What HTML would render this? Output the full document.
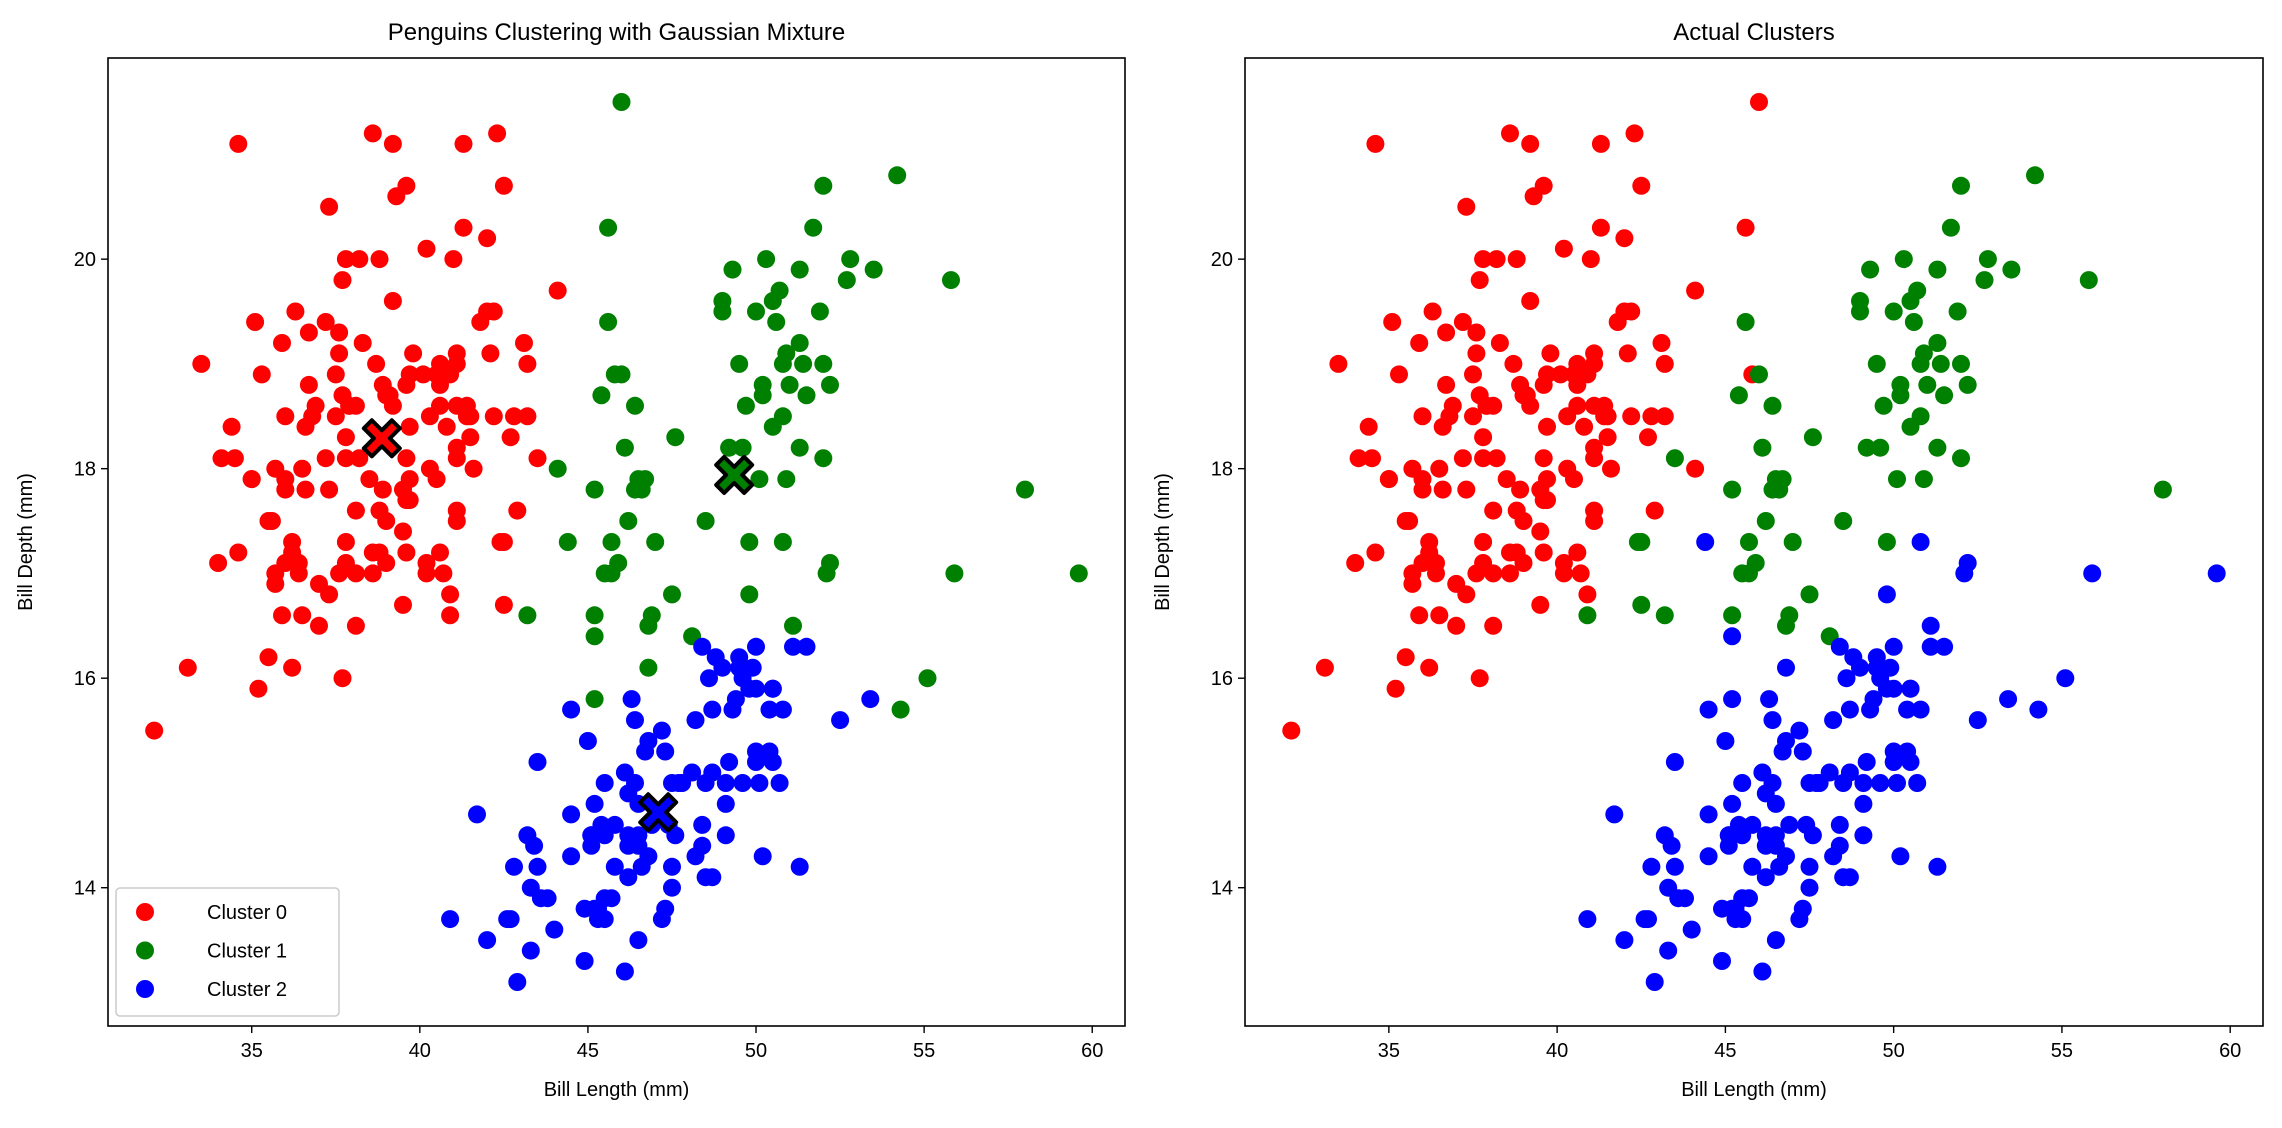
<!DOCTYPE html>
<html><head><meta charset="utf-8">
<style>
html,body{margin:0;padding:0;background:#fff;}
svg{display:block;font-family:"Liberation Sans","DejaVu Sans",sans-serif;}
</style></head>
<body>
<svg id="chart" width="2282" height="1128" viewBox="0 0 2282 1128"></svg>
<script>
// ---- data ----
const adelieLen=[39.1,39.5,40.3,36.7,39.3,38.9,39.2,34.1,42.0,37.8,37.8,41.1,38.6,34.6,36.6,38.7,42.5,34.4,46.0,37.8,37.7,35.9,38.2,38.8,35.3,40.6,40.5,37.9,40.5,39.5,37.2,39.5,40.9,36.4,39.2,38.8,42.2,37.6,39.8,36.5,40.8,36.0,44.1,37.0,39.6,41.1,37.5,36.0,42.3,39.6,40.1,35.0,42.0,34.5,41.4,39.0,40.6,36.5,37.6,35.7,41.3,37.6,41.1,36.4,41.6,35.5,41.1,35.9,41.8,33.5,39.7,39.6,45.8,35.5,42.8,40.9,37.2,36.2,42.1,34.6,42.9,36.7,35.1,37.3,41.3,36.3,36.9,38.3,38.9,35.7,41.1,34.0,39.6,36.2,40.8,38.1,40.3,33.1,43.2,35.0,41.0,37.7,37.8,37.9,39.7,38.6,38.2,38.1,43.2,38.1,45.6,39.7,42.2,39.6,42.7,38.6,37.3,35.7,41.1,36.2,37.7,40.2,41.4,35.2,40.6,38.8,41.5,39.0,44.1,38.5,43.1,36.8,37.5,38.1,41.1,35.6,40.2,37.0,39.7,40.2,40.6,32.1,40.7,37.3,39.0,39.2,36.6,36.0,37.8,36.0,41.5];
const adelieDep=[18.7,17.4,18.0,19.3,20.6,17.8,19.6,18.1,20.2,17.1,17.3,17.6,21.2,21.1,17.8,19.0,20.7,18.4,21.5,18.3,18.7,19.2,18.1,17.2,18.9,18.6,17.9,18.6,18.9,16.7,18.1,17.8,18.9,17.0,21.1,20.0,18.5,19.3,19.1,18.0,18.4,18.5,19.7,16.9,18.8,19.0,18.9,17.9,21.2,17.7,18.9,17.9,19.5,18.1,18.6,17.5,18.8,16.6,19.1,16.9,21.1,17.0,18.2,17.1,18.0,16.2,19.1,16.6,19.4,19.0,18.4,17.2,18.9,17.5,18.5,16.8,19.4,16.1,19.1,17.2,17.6,18.8,19.4,17.8,20.3,19.5,18.6,19.2,18.8,18.0,18.1,17.1,18.1,17.3,18.9,18.6,18.5,16.1,18.5,17.9,20.0,16.0,20.0,18.6,18.9,17.2,20.0,17.0,19.0,16.5,20.3,17.7,19.5,20.7,18.3,17.0,20.5,17.0,18.6,17.2,19.8,17.0,18.5,15.9,19.0,17.6,18.3,17.1,18.0,17.9,19.2,18.5,18.5,17.6,17.5,17.5,20.1,16.5,17.9,17.1,17.2,15.5,17.0,16.8,18.7,18.6,18.4,17.8,18.1,17.1,18.5];
const chinLen=[46.5,50.0,51.3,45.4,52.7,45.2,46.1,51.3,46.0,51.3,46.6,51.7,47.0,52.0,45.9,50.5,50.3,58.0,46.4,49.2,42.4,48.5,43.2,50.6,46.7,52.0,50.5,49.5,46.4,52.8,40.9,54.2,42.5,51.0,49.7,47.5,47.6,52.0,46.9,53.5,49.0,46.2,50.9,45.5,50.9,50.8,50.1,49.0,51.5,49.8,48.1,51.4,45.7,50.7,42.5,52.2,45.2,49.3,50.2,45.6,51.9,46.8,45.7,55.8,43.5,49.6,50.8,50.2];
const chinDep=[17.9,19.5,19.2,18.7,19.8,17.8,18.2,18.2,18.9,19.9,17.8,20.3,17.3,18.1,17.1,19.6,20.0,17.8,18.6,18.2,17.3,17.5,16.6,19.4,17.9,19.0,18.4,19.0,17.8,20.0,16.6,20.8,16.7,18.8,18.6,16.8,18.3,20.7,16.6,19.9,19.5,17.5,19.1,17.0,17.9,18.5,17.9,19.6,18.7,17.3,16.4,19.0,17.3,19.7,17.3,18.8,16.6,19.9,18.8,19.4,19.5,16.5,17.0,19.8,18.1,18.2,19.0,18.7];
const gentooLen=[46.1,50.0,48.7,50.0,47.6,46.5,45.4,46.7,43.3,46.8,40.9,49.0,45.5,48.4,45.8,49.3,42.0,49.2,46.2,48.7,50.2,45.1,46.5,46.3,42.9,46.1,44.5,47.8,48.2,50.0,47.3,42.8,45.1,59.6,49.1,48.4,42.6,44.4,44.0,48.7,42.7,49.6,45.3,49.6,50.5,43.6,45.5,50.5,44.9,45.2,46.6,48.5,45.1,50.1,46.5,45.0,43.8,45.5,43.2,50.4,45.3,46.2,45.7,54.3,45.8,49.8,46.2,49.5,43.5,50.7,47.7,46.4,48.2,46.5,46.4,48.6,47.5,51.1,45.2,45.2,49.1,52.5,47.4,50.0,44.9,50.8,43.4,51.3,47.5,52.1,47.5,52.2,45.5,49.5,44.5,50.8,49.4,46.9,48.4,51.1,48.5,55.9,47.2,49.1,47.3,46.8,41.7,53.4,43.3,48.1,50.5,49.8,43.5,51.5,46.2,55.1,44.5,48.8,47.2,46.8,50.4,45.2,49.9];
const gentooDep=[13.2,16.3,14.1,15.2,14.5,13.5,14.6,15.3,13.4,15.4,13.7,16.1,13.7,14.6,14.6,15.7,13.5,15.2,14.5,15.1,14.3,14.5,14.5,15.8,13.1,15.1,14.3,15.0,14.3,15.3,15.3,14.2,14.5,17.0,14.8,16.3,13.7,17.3,13.6,15.7,13.7,16.0,13.7,15.0,15.9,13.9,13.9,15.9,13.3,15.8,14.2,14.1,14.4,15.0,14.4,15.4,13.9,15.0,14.5,15.3,13.8,14.9,13.9,15.7,14.2,16.8,14.4,16.2,14.2,15.0,15.0,15.6,15.6,14.8,15.0,16.0,14.2,16.3,13.8,16.4,14.5,15.6,14.6,15.9,13.8,17.3,14.4,14.2,14.0,17.0,15.0,17.1,14.5,16.1,14.7,15.7,15.8,14.6,14.4,16.5,15.0,17.0,15.5,15.0,13.8,16.1,14.7,15.8,14.0,15.1,15.2,15.9,15.2,16.3,14.1,16.0,15.7,16.2,13.7,14.3,15.7,14.8,16.1];
// GMM assignments that differ from species (length, depth, cluster)
const overrideLen=[45.8,46.0,45.6,44.1,40.9,42.5,42.4,42.5,43.5,44.4,45.2,45.2,46.8,55.1,54.3,59.6,55.9,52.1,52.2,50.8,51.1,49.8];
const overrideDep=[18.9,21.5,20.3,18.0,16.6,16.7,17.3,17.3,18.1,17.3,16.4,15.8,16.1,16.0,15.7,17.0,17.0,17.0,17.1,17.3,16.5,16.8];
const overrideCluster=[1,1,1,1,0,0,0,0,0,1,1,1,1,1,1,1,1,1,1,1,1,1];
const centerLen=[38.87,49.35,47.09];
const centerDep=[18.29,17.94,14.72];
const xTicks=[35,40,45,50,55,60];
const yTicks=[14,16,18,20];
const colors=['#ff0000','#008000','#0000ff'];

// ---- layout ----
const NS='http://www.w3.org/2000/svg';
const svg=document.getElementById('chart');
const XMIN=30.725,XMAX=60.975,YMIN=12.68,YMAX=21.92;
const TOP=58,BOT=1026;
function mk(tag,attrs,parent){const e=document.createElementNS(NS,tag);for(const k in attrs)e.setAttribute(k,attrs[k]);(parent||svg).appendChild(e);return e;}

const pts=[];
function addSet(L,D,sp){for(let i=0;i<L.length;i++){let c=sp;for(let j=0;j<overrideLen.length;j++){if(overrideLen[j]===L[i]&&overrideDep[j]===D[i]){c=overrideCluster[j];}}pts.push({x:L[i],y:D[i],sp:sp,cl:c});}}
addSet(adelieLen,adelieDep,0);addSet(chinLen,chinDep,1);addSet(gentooLen,gentooDep,2);

function panel(x0,x1,title,key,name,showCenters,showLegend){
  const sx=v=>x0+(v-XMIN)/(XMAX-XMIN)*(x1-x0);
  const sy=v=>BOT-(v-YMIN)/(YMAX-YMIN)*(BOT-TOP);
  const g=mk('g',{});
  
  
  for(let c=0;c<3;c++){
    const sg=mk('g',{fill:colors[c]},g);
    
    
    pts.filter(p=>p[key]===c).forEach(p=>{
      const dot=mk('circle',{cx:sx(p.x).toFixed(1),cy:sy(p.y).toFixed(1),r:9},sg);
      
      
    });
  }
  if(showCenters){
    for(let c=0;c<3;c++){
      const cx=sx(centerLen[c]),cy=sy(centerDep[c]),a=18,w=8;
      const d=`M${cx-a+w} ${cy-a} L${cx} ${cy-w} L${cx+a-w} ${cy-a} L${cx+a} ${cy-a+w} L${cx+w} ${cy} L${cx+a} ${cy+a-w} L${cx+a-w} ${cy+a} L${cx} ${cy+w} L${cx-a+w} ${cy+a} L${cx-a} ${cy+a-w} L${cx-w} ${cy} L${cx-a} ${cy-a+w} Z`;
      const m=mk('path',{d:d,fill:colors[c],stroke:'#000','stroke-width':4,'stroke-linejoin':'round'},g);
      
      
    }
  }
  const frame=mk('rect',{x:x0,y:TOP,width:x1-x0,height:BOT-TOP,fill:'none',stroke:'#000','stroke-width':1.6},g);
  
  
  xTicks.forEach(t=>{
    const x=sx(t);
    mk('line',{x1:x,x2:x,y1:BOT,y2:BOT+7,stroke:'#000','stroke-width':1.4},g);
    const tx=mk('text',{x:x,y:BOT+31,'text-anchor':'middle','font-size':20},g);
    tx.textContent=t;
    
    
  });
  yTicks.forEach(t=>{
    const y=sy(t);
    mk('line',{x1:x0-7,x2:x0,y1:y,y2:y,stroke:'#000','stroke-width':1.4},g);
    const tx=mk('text',{x:x0-12,y:y+7,'text-anchor':'end','font-size':20},g);
    tx.textContent=t;
    
    
  });
  const tt=mk('text',{x:(x0+x1)/2,y:40,'text-anchor':'middle','font-size':24},g);
  tt.textContent=title;
  
  
  const xl=mk('text',{x:(x0+x1)/2,y:1096,'text-anchor':'middle','font-size':20},g);
  xl.textContent='Bill Length (mm)';
  
  
  const yx=x0-76,yy=(TOP+BOT)/2;
  const yl=mk('text',{x:yx,y:yy,'text-anchor':'middle','font-size':20,transform:`rotate(-90 ${yx} ${yy})`},g);
  yl.textContent='Bill Depth (mm)';
  
  
  if(showLegend){
    const lg=mk('g',{},g);
    
    
    mk('rect',{x:x0+8,y:888,width:223,height:128,rx:4,fill:'#fff','fill-opacity':0.8,stroke:'#ccc','stroke-width':1.5},lg);
    for(let c=0;c<3;c++){
      const y=912+c*38.5;
      mk('circle',{cx:x0+37,cy:y,r:9},lg);
      lg.lastChild.setAttribute('fill',colors[c]);
      const lt=mk('text',{x:x0+99,y:y+7,'font-size':20},lg);
      lt.textContent='Cluster '+c;
      
      
    }
  }
}
panel(108,1125,'Penguins Clustering with Gaussian Mixture','cl','gmm-panel',true,true);
panel(1245,2263,'Actual Clusters','sp','actual-panel',false,false);
</script>
</body></html>
